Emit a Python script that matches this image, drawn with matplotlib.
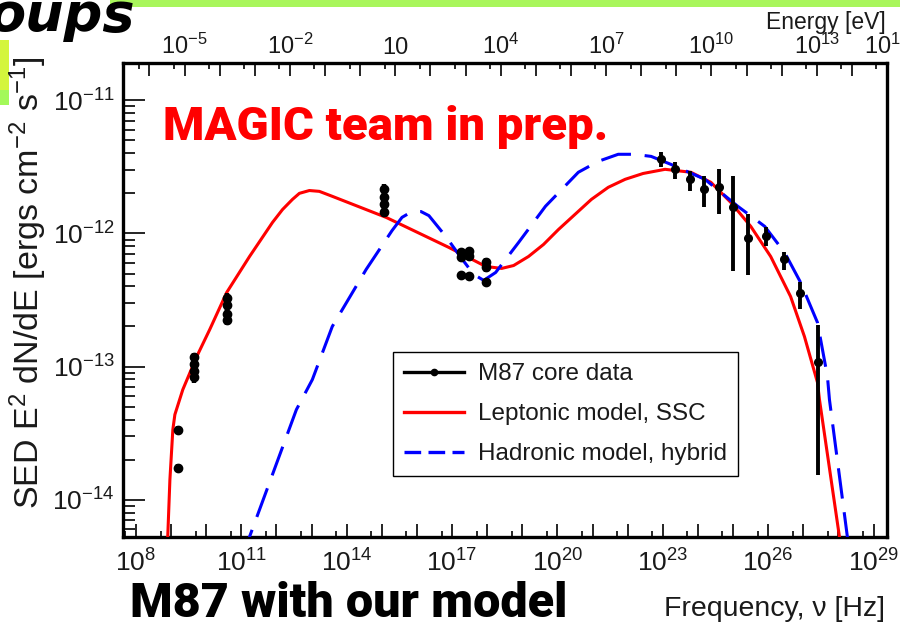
import numpy as np
import matplotlib
matplotlib.use("Agg")
import matplotlib.pyplot as plt
from matplotlib.lines import Line2D
from matplotlib.patches import Rectangle
from matplotlib.ticker import FixedLocator, NullFormatter

plt.rcParams["font.family"] = ["Liberation Sans", "DejaVu Sans"]
plt.rcParams["mathtext.fontset"] = "custom"
plt.rcParams["mathtext.rm"] = "Liberation Sans"
plt.rcParams["mathtext.it"] = "Liberation Sans:italic"
plt.rcParams["mathtext.default"] = "regular"

H_EV = 4.135667e-15  # Planck constant [eV s]

# M87 core data, radio to X-ray: frequency [Hz], SED [erg cm^-2 s^-1]
low_nu = [1.55e9, 1.55e9,
          4.57e9, 4.57e9, 4.57e9, 4.57e9,
          3.98e10, 3.98e10, 3.98e10, 3.98e10,
          1.15e15, 1.15e15, 1.15e15, 1.15e15,
          1.78e17, 1.78e17, 1.78e17,
          2.99e17, 2.99e17, 2.99e17,
          9.1e17, 9.1e17, 9.1e17]
low_sed = [3.36e-14, 1.74e-14,
           1.17e-13, 1.04e-13, 9.2e-14, 8.3e-14,
           3.30e-13, 2.88e-13, 2.50e-13, 2.25e-13,
           2.14e-12, 1.87e-12, 1.65e-12, 1.46e-12,
           7.3e-13, 6.6e-13, 4.9e-13,
           7.4e-13, 6.8e-13, 4.75e-13,
           6.15e-13, 5.55e-13, 4.35e-13]
low_relerr = [0.07, 0.07,
              0.09, 0.09, 0.09, 0.09,
              0.09, 0.09, 0.09, 0.09,
              0.09, 0.09, 0.09, 0.09,
              0.05, 0.05, 0.03,
              0.05, 0.05, 0.03,
              0.07, 0.07, 0.03]

# gamma-ray points (Fermi-LAT + MAGIC) with asymmetric bounds
gam_nu = [8.9e22, 2.24e23, 5.9e23, 1.48e24, 3.98e24, 9.8e24,
          2.63e25, 8.5e25, 2.75e26, 8.3e26, 2.69e27]
gam_sed = [3.60e-12, 3.03e-12, 2.55e-12, 2.14e-12, 2.22e-12, 1.57e-12,
           9.3e-13, 9.5e-13, 6.4e-13, 3.6e-13, 1.09e-13]
gam_lo = [3.13e-12, 2.55e-12, 2.07e-12, 1.57e-12, 1.39e-12, 5.2e-13,
          4.9e-13, 8.0e-13, 5.35e-13, 2.69e-13, 1.54e-14]
gam_hi = [4.06e-12, 3.42e-12, 2.92e-12, 2.69e-12, 3.03e-12, 2.69e-12,
          1.39e-12, 1.11e-12, 7.2e-13, 4.35e-13, 2.07e-13]

# leptonic (SSC) model curve
lep_nu = [7.57e8, 9.23e8, 1.12e9, 1.28e9, 2.15e9, 5.37e9, 1.26e10, 3.82e10,
          1.71e11, 7.71e11, 1.48e12, 2.84e12, 4.49e12, 8.63e12, 1.66e13,
          3.88e13, 1.32e15, 8.09e16, 9.06e17, 2.58e18, 5.65e18, 1.50e19,
          4.01e19, 1.07e20, 9.23e20, 2.80e21, 8.49e21, 2.75e22, 1.16e23,
          6.32e23, 2.34e24, 8.63e24, 3.19e25, 1.18e26, 4.35e26, 1.08e27,
          2.54e27, 2.89e27, 1.07e28, 1.30e28]
lep_sed = [3.54e-15, 1.41e-14, 3.36e-14, 4.36e-14, 6.71e-14, 1.19e-13,
           1.90e-13, 3.60e-13, 6.71e-13, 1.21e-12, 1.51e-12, 1.80e-12,
           2.00e-12, 2.10e-12, 2.07e-12, 1.90e-12, 1.32e-12, 7.85e-13,
           5.65e-13, 5.46e-13, 5.74e-13, 6.71e-13, 8.26e-13, 1.07e-12,
           1.80e-12, 2.22e-12, 2.55e-12, 2.82e-12, 3.03e-12, 2.88e-12,
           2.42e-12, 1.71e-12, 1.13e-12, 6.71e-13, 3.36e-13, 1.68e-13,
           7.59e-14, 5.65e-14, 5.27e-15, 3.54e-15]

# hadronic (hybrid) model curve
had_nu = [1.41e11, 1.71e11, 3.69e12, 1.05e13, 3.88e13, 3.57e14, 1.95e15,
          3.75e15, 7.21e15, 1.30e16, 2.19e16, 6.65e16, 1.77e17, 4.14e17,
          7.96e17, 1.74e18, 7.83e18, 4.57e19, 3.94e20, 1.46e21, 5.37e21,
          1.53e22, 4.65e22, 1.71e23, 1.58e24, 1.36e25, 7.96e25, 2.94e26,
          8.36e26, 2.54e27, 4.88e27, 5.56e27, 1.80e28, 2.19e28]
had_sed = [3.54e-15, 5.27e-15, 4.75e-14, 7.98e-14, 2.00e-13, 5.36e-13,
           1.05e-12, 1.32e-12, 1.46e-12, 1.46e-12, 1.36e-12, 9.48e-13,
           6.61e-13, 4.92e-13, 4.44e-13, 5.09e-13, 8.55e-13, 1.60e-12,
           2.88e-12, 3.48e-12, 3.93e-12, 3.93e-12, 3.79e-12, 3.30e-12,
           2.55e-12, 1.60e-12, 1.13e-12, 7.19e-13, 4.29e-13, 2.14e-13,
           8.41e-14, 5.65e-14, 5.27e-15, 3.54e-15]

nu_min, nu_max = 10 ** 7.63, 1.001e15 / H_EV
sed_min, sed_max = 10 ** -14.28, 10 ** -10.72

nu_labeled = [8, 11, 14, 17, 20, 23, 26, 29]
e_labeled = [-5, -2, 1, 4, 7, 10, 13, 15]
sed_labeled = [-14, -13, -12, -11]


def pow_label(p):
    return "10" if p == 1 else "$10^{%d}$" % p


fig = plt.figure(figsize=(9.0, 6.29), dpi=100)
fig.patch.set_facecolor("white")

ax = fig.add_axes([123 / 900, 1 - 537 / 629, 764 / 900, 474 / 629])
ax.set_xscale("log")
ax.set_yscale("log")
ax.set_xlim(nu_min, nu_max)
ax.set_ylim(sed_min, sed_max)

ax.plot(lep_nu, lep_sed, color="#ff0000", lw=2.2, zorder=3)
ax.plot(had_nu, had_sed, color="#0000ff", lw=2.2, dashes=(10, 4.5), zorder=3)

low_sed_a = np.array(low_sed)
low_err = low_sed_a * np.array(low_relerr)
ax.errorbar(low_nu, low_sed, yerr=low_err, fmt="o", color="black", ms=6,
            elinewidth=3.2, capsize=0, zorder=4)
gam_sed_a = np.array(gam_sed)
gam_err = [gam_sed_a - np.array(gam_lo), np.array(gam_hi) - gam_sed_a]
ax.errorbar(gam_nu, gam_sed, yerr=gam_err, fmt="o", color="black", ms=5.5,
            elinewidth=2.8, capsize=0, zorder=4)

for s in ax.spines.values():
    s.set_linewidth(2.4)
    s.set_color("black")

# bottom axis: a tick every decade, labels every third decade
ax.xaxis.set_major_locator(FixedLocator([10.0 ** p for p in range(8, 30)]))
ax.xaxis.set_minor_locator(FixedLocator([5 * 10.0 ** p for p in range(7, 30)]))
ax.set_xticklabels([pow_label(p) if p in nu_labeled else "" for p in range(8, 30)])
ax.xaxis.set_minor_formatter(NullFormatter())

ax.yaxis.set_major_locator(FixedLocator([10.0 ** p for p in sed_labeled]))
ax.yaxis.set_minor_locator(FixedLocator([m * 10.0 ** p for p in range(-15, -10)
                                         for m in range(2, 10)]))
ax.set_yticklabels([pow_label(p) for p in sed_labeled])
ax.yaxis.set_minor_formatter(NullFormatter())

ax.tick_params(axis="x", which="major", direction="in", length=9.4, width=1.2,
               labelsize=19, pad=9, colors="black", labelcolor="#1a1a1a", top=False)
ax.tick_params(axis="x", which="minor", direction="in", length=4.3, width=1.2, top=False)
ax.tick_params(axis="y", which="major", direction="in", length=16, width=1.2,
               labelsize=19, pad=6, labelcolor="#1a1a1a", right=False)
ax.tick_params(axis="y", which="minor", direction="in", length=8.6, width=1.2, right=False)

# top axis: photon energy
top = ax.twiny()
top.set_xscale("log")
top.set_xlim(nu_min * H_EV, nu_max * H_EV)
top.xaxis.set_major_locator(FixedLocator([10.0 ** p for p in range(-6, 16)]))
top.xaxis.set_minor_locator(FixedLocator([5 * 10.0 ** p for p in range(-7, 16)]))
top.set_xticklabels([pow_label(p) if p in e_labeled else "" for p in range(-6, 16)])
top.xaxis.set_minor_formatter(NullFormatter())
top.tick_params(axis="x", which="major", direction="in", length=9.4, width=1.2,
                labelsize=17, pad=3, labelcolor="#1a1a1a")
top.tick_params(axis="x", which="minor", direction="in", length=4.3, width=1.2)
for s in top.spines.values():
    s.set_visible(False)

fig.text(886 / 900, 1 - 22 / 629, "Energy [eV]", ha="right", va="center",
         fontsize=16.5, color="#1a1a1a")
fig.text(885 / 900, 1 - 609 / 629, "Frequency, ν [Hz]", ha="right", va="center",
         fontsize=20.5, color="#1a1a1a")
fig.text(28 / 900, 1 - 283 / 629,
         "SED E$^{2}$ dN/dE [ergs cm$^{-2}$ s$^{-1}$]",
         rotation=90, ha="center", va="center", fontsize=24.5, color="#1a1a1a")

handles = [
    Line2D([], [], color="black", lw=2.4, marker="o", ms=4.5),
    Line2D([], [], color="#ff0000", lw=2.4),
    Line2D([], [], color="#0000ff", lw=2.4, dashes=(5, 2.2)),
]
labels = ["M87 core data", "Leptonic model, SSC", "Hadronic model, hybrid"]
leg = ax.legend(handles, labels, loc="upper left", bbox_to_anchor=(0.353, 0.390),
                borderaxespad=0, fontsize=17.5, frameon=True, fancybox=False,
                edgecolor="black", framealpha=1, handlelength=2.5,
                handletextpad=0.55, borderpad=0.45, labelspacing=0.74)
leg.get_frame().set_linewidth(1.0)
for t in leg.get_texts():
    t.set_color("#1a1a1a")

# slide decorations around the chart
fig.add_artist(Rectangle((110 / 900, 1 - 7 / 629), 790 / 900, 7 / 629,
                         transform=fig.transFigure, color="#a9f65c", lw=0))
fig.add_artist(Rectangle((0, 1 - 90 / 629), 9 / 900, 50 / 629,
                         transform=fig.transFigure, color="#d4f53c", lw=0))
fig.add_artist(Rectangle((0, 1 - 105 / 629), 9 / 900, 15 / 629,
                         transform=fig.transFigure, color="#a3f95a", lw=0))
fig.text(-12 / 900, 1 - 31 / 629, "oups", ha="left", va="baseline",
         fontsize=39, fontweight="bold", style="italic",
         family=["DejaVu Sans"], color="black")
fig.text(163 / 900, 1 - 140 / 629, "MAGIC team in prep.", ha="left", va="baseline",
         fontsize=34, fontweight="black", family=["Roboto", "DejaVu Sans"],
         color="#ff0000")
fig.text(130 / 900, 1 - 617 / 629, "M87 with our model", ha="left", va="baseline",
         fontsize=35, fontweight="black", family=["Roboto", "DejaVu Sans"],
         color="black")

fig.savefig("out.png", dpi=100, facecolor="white")
